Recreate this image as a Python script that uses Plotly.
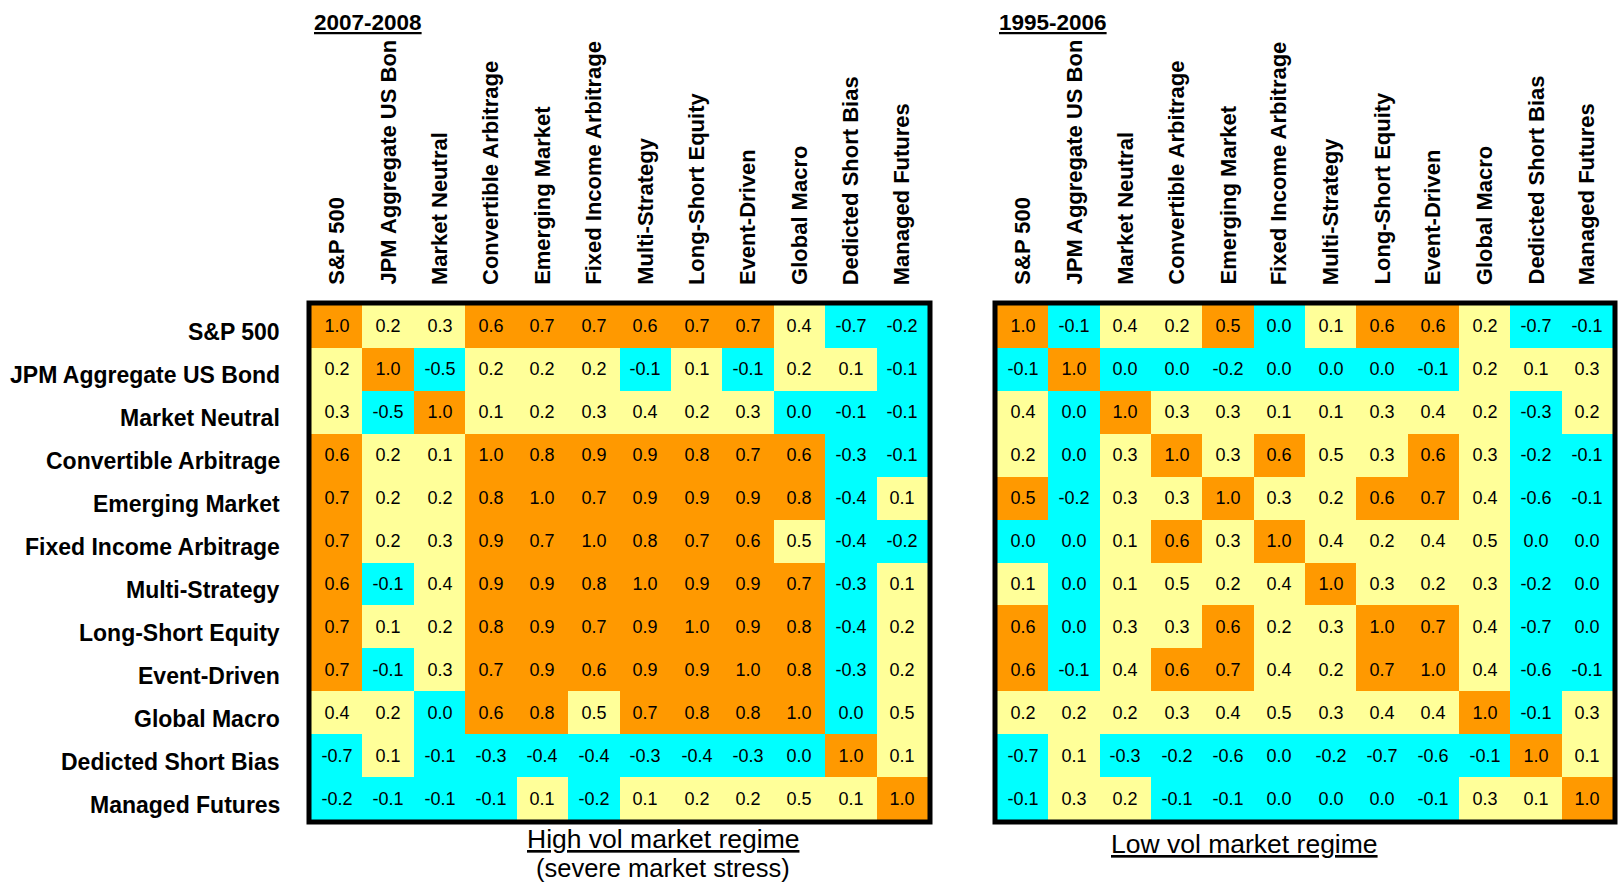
import plotly.graph_objects as go

# ---------------- data ----------------
categories = ["S&P 500", "JPM Aggregate US Bond", "Market Neutral", "Convertible Arbitrage",
              "Emerging Market", "Fixed Income Arbitrage", "Multi-Strategy", "Long-Short Equity",
              "Event-Driven", "Global Macro", "Dedicted Short Bias", "Managed Futures"]

# column headers as printed (the JPM header is cut off in the original)
column_labels = ["S&P 500", "JPM Aggregate US Bon", "Market Neutral", "Convertible Arbitrage",
                 "Emerging Market", "Fixed Income Arbitrage", "Multi-Strategy", "Long-Short Equity",
                 "Event-Driven", "Global Macro", "Dedicted Short Bias", "Managed Futures"]

title_high = "2007-2008"
title_low = "1995-2006"
caption_high = "High vol market regime"
caption_high_sub = "(severe market stress)"
caption_low = "Low vol market regime"

corr_2007_2008 = [
    [1.0, 0.2, 0.3, 0.6, 0.7, 0.7, 0.6, 0.7, 0.7, 0.4, -0.7, -0.2],
    [0.2, 1.0, -0.5, 0.2, 0.2, 0.2, -0.1, 0.1, -0.1, 0.2, 0.1, -0.1],
    [0.3, -0.5, 1.0, 0.1, 0.2, 0.3, 0.4, 0.2, 0.3, 0.0, -0.1, -0.1],
    [0.6, 0.2, 0.1, 1.0, 0.8, 0.9, 0.9, 0.8, 0.7, 0.6, -0.3, -0.1],
    [0.7, 0.2, 0.2, 0.8, 1.0, 0.7, 0.9, 0.9, 0.9, 0.8, -0.4, 0.1],
    [0.7, 0.2, 0.3, 0.9, 0.7, 1.0, 0.8, 0.7, 0.6, 0.49, -0.4, -0.2],
    [0.6, -0.1, 0.4, 0.9, 0.9, 0.8, 1.0, 0.9, 0.9, 0.7, -0.3, 0.1],
    [0.7, 0.1, 0.2, 0.8, 0.9, 0.7, 0.9, 1.0, 0.9, 0.8, -0.4, 0.2],
    [0.7, -0.1, 0.3, 0.7, 0.9, 0.6, 0.9, 0.9, 1.0, 0.8, -0.3, 0.2],
    [0.4, 0.2, 0.0, 0.6, 0.8, 0.49, 0.7, 0.8, 0.8, 1.0, 0.0, 0.49],
    [-0.7, 0.1, -0.1, -0.3, -0.4, -0.4, -0.3, -0.4, -0.3, 0.0, 1.0, 0.1],
    [-0.2, -0.1, -0.1, -0.1, 0.1, -0.2, 0.1, 0.2, 0.2, 0.49, 0.1, 1.0],
]

corr_1995_2006 = [
    [1.0, -0.1, 0.4, 0.2, 0.51, 0.0, 0.1, 0.6, 0.6, 0.2, -0.7, -0.1],
    [-0.1, 1.0, 0.0, 0.0, -0.2, 0.0, 0.0, 0.0, -0.1, 0.2, 0.1, 0.3],
    [0.4, 0.0, 1.0, 0.3, 0.3, 0.1, 0.1, 0.3, 0.4, 0.2, -0.3, 0.2],
    [0.2, 0.0, 0.3, 1.0, 0.3, 0.6, 0.49, 0.3, 0.6, 0.3, -0.2, -0.1],
    [0.51, -0.2, 0.3, 0.3, 1.0, 0.3, 0.2, 0.6, 0.7, 0.4, -0.6, -0.1],
    [0.0, 0.0, 0.1, 0.6, 0.3, 1.0, 0.4, 0.2, 0.4, 0.49, 0.0, 0.0],
    [0.1, 0.0, 0.1, 0.49, 0.2, 0.4, 1.0, 0.3, 0.2, 0.3, -0.2, 0.0],
    [0.6, 0.0, 0.3, 0.3, 0.6, 0.2, 0.3, 1.0, 0.7, 0.4, -0.7, 0.0],
    [0.6, -0.1, 0.4, 0.6, 0.7, 0.4, 0.2, 0.7, 1.0, 0.4, -0.6, -0.1],
    [0.2, 0.2, 0.2, 0.3, 0.4, 0.49, 0.3, 0.4, 0.4, 1.0, -0.1, 0.3],
    [-0.7, 0.1, -0.3, -0.2, -0.6, 0.0, -0.2, -0.7, -0.6, -0.1, 1.0, 0.1],
    [-0.1, 0.3, 0.2, -0.1, -0.1, 0.0, 0.0, 0.0, -0.1, 0.3, 0.1, 1.0],
]

# ---------------- styling ----------------
CYAN = "#00FFFF"
YELLOW = "#FFFF99"
ORANGE = "#FF9900"
FONT = "Liberation Sans, Arial, Helvetica, sans-serif"
W, H = 1618, 884


def band(v):
    if v <= 0.0:
        return 0
    if v < 0.5:
        return 1
    return 2


def fmt(v):
    s = f"{v:.1f}"
    return "0.0" if s == "-0.0" else s


colorscale = [[0.0, CYAN], [0.3333, CYAN], [0.3333, YELLOW], [0.6667, YELLOW],
              [0.6667, ORANGE], [1.0, ORANGE]]


def px_x(x):
    return x / W


def px_y(y):
    return (H - y) / H


fig = go.Figure()

panels = [
    (corr_2007_2008, "x", "y", (311, 928)),
    (corr_1995_2006, "x2", "y2", (997, 1613)),
]
top_px, bot_px = 305, 820

for mat, xa, ya, (x0, x1) in panels:
    fig.add_trace(go.Heatmap(
        z=[[band(v) for v in row] for row in mat],
        x=categories, y=categories,
        text=[[fmt(v) for v in row] for row in mat],
        texttemplate="%{text}",
        textfont=dict(family=FONT, size=18, color="black"),
        colorscale=colorscale, zmin=0, zmax=2, showscale=False,
        xgap=0, ygap=0, hoverinfo="skip",
        xaxis=xa, yaxis=ya,
    ))

axis_common = dict(showticklabels=False, showgrid=False, zeroline=False, ticks="",
                   showline=False, type="category", fixedrange=True)
fig.update_layout(
    width=W, height=H,
    margin=dict(l=0, r=0, t=0, b=0),
    paper_bgcolor="white", plot_bgcolor="white",
    xaxis=dict(domain=[px_x(311), px_x(928)], anchor="y", **axis_common),
    yaxis=dict(domain=[px_y(bot_px), px_y(top_px)], anchor="x", autorange="reversed", **axis_common),
    xaxis2=dict(domain=[px_x(997), px_x(1613)], anchor="y2", **axis_common),
    yaxis2=dict(domain=[px_y(bot_px), px_y(top_px)], anchor="x2", autorange="reversed", **axis_common),
    showlegend=False,
)

# thick black borders around each matrix
for _, _, _, (x0, x1) in panels:
    fig.add_shape(type="rect", xref="paper", yref="paper",
                  x0=px_x(x0 - 2), x1=px_x(x1 + 2), y0=px_y(bot_px + 2), y1=px_y(top_px - 2),
                  line=dict(color="black", width=5), fillcolor="rgba(0,0,0,0)", layer="above")

annotations = []
# column headers (rotated)
for xa in ["x", "x2"]:
    for cat, lab in zip(categories, column_labels):
        annotations.append(dict(
            x=cat, xref=xa, y=px_y(287), yref="paper",
            text=f"<b>{lab}</b>", textangle=-90, showarrow=False,
            xanchor="center", yanchor="bottom",
            font=dict(family=FONT, size=22, color="black"),
        ))
# row labels
for cat in categories:
    annotations.append(dict(
        x=px_x(282), xref="paper", y=cat, yref="y", yshift=-6,
        text=f"<b>{cat}</b>", showarrow=False, xanchor="right", yanchor="middle",
        font=dict(family=FONT, size=23, color="black"),
    ))
# period titles
for title, xpos in [(title_high, 312), (title_low, 997)]:
    annotations.append(dict(
        x=px_x(xpos), xref="paper", y=px_y(22), yref="paper",
        text=f"<b><u>{title}</u></b>", showarrow=False, xanchor="left", yanchor="middle",
        font=dict(family=FONT, size=22.5, color="black"),
    ))
# captions
annotations.append(dict(x=px_x(663), xref="paper", y=px_y(839), yref="paper",
                        text=f"<u>{caption_high}</u>", showarrow=False,
                        xanchor="center", yanchor="middle",
                        font=dict(family=FONT, size=26.5, color="black")))
annotations.append(dict(x=px_x(663), xref="paper", y=px_y(868), yref="paper",
                        text=caption_high_sub, showarrow=False,
                        xanchor="center", yanchor="middle",
                        font=dict(family=FONT, size=25.5, color="black")))
annotations.append(dict(x=px_x(1244), xref="paper", y=px_y(844), yref="paper",
                        text=f"<u>{caption_low}</u>", showarrow=False,
                        xanchor="center", yanchor="middle",
                        font=dict(family=FONT, size=26.5, color="black")))

fig.update_layout(annotations=annotations)

fig.write_html(
    "out.html",
    config={"displayModeBar": False, "staticPlot": True},
    post_script="document.body.style.margin='0px';document.body.style.overflow='hidden';",
)
